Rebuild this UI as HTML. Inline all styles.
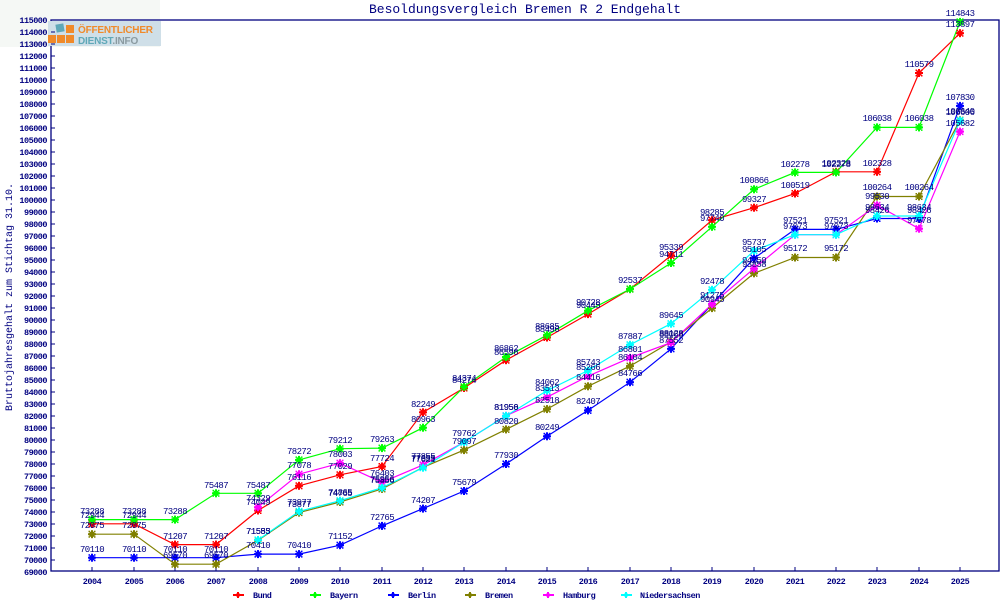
<!DOCTYPE html>
<html><head><meta charset="utf-8"><style>
body{margin:0;background:#fff}
svg{display:block}
.t{font-family:"Liberation Mono",monospace;font-size:9px;fill:#000080;letter-spacing:-0.6px;text-anchor:middle}
.ax{font-family:"Liberation Mono",monospace;font-size:8.5px;font-weight:bold;fill:#000080;letter-spacing:-0.5px}
</style></head><body>
<svg width="1000" height="600" viewBox="0 0 1000 600" xmlns="http://www.w3.org/2000/svg">
<defs>
<g id="m"><circle r="3"/><rect x="-4" y="-1" width="8" height="2"/><rect x="-1" y="-4" width="2" height="8"/><rect x="-3.5" y="-3.5" width="1.5" height="1.5"/><rect x="2" y="-3.5" width="1.5" height="1.5"/><rect x="-3.5" y="2" width="1.5" height="1.5"/><rect x="2" y="2" width="1.5" height="1.5"/></g>
<g id="s"><rect x="-3" y="-1" width="6" height="2"/><rect x="-1" y="-3" width="2" height="6"/><circle r="2"/></g>
</defs>
<rect x="0" y="0" width="160" height="47" fill="#f5f8f5"/>
<text x="525" y="13" text-anchor="middle" font-family="Liberation Mono,monospace" font-size="13" fill="#000080">Besoldungsvergleich Bremen R 2 Endgehalt</text>
<text transform="translate(12,297) rotate(-90)" text-anchor="middle" font-family="Liberation Mono,monospace" font-size="10" fill="#000080">Bruttojahresgehalt zum Stichtag 31.10.</text>
<rect x="51" y="20" width="948" height="551" fill="none" stroke="#000080" stroke-width="1.3"/>
<rect x="48" y="21" width="113" height="25" fill="#cfdfe8"/>
<rect x="56" y="24" width="8" height="8" fill="#5fa8b8" transform="rotate(-10 60 28)"/>
<rect x="66" y="25" width="8" height="8" fill="#f08a2a"/>
<rect x="48" y="35" width="8" height="8" fill="#f08a2a"/><rect x="57" y="35" width="8" height="8" fill="#f08a2a"/><rect x="66" y="35" width="8" height="8" fill="#f08a2a"/>
<text x="78" y="33" font-family="Liberation Sans,sans-serif" font-weight="bold" font-size="10" fill="#f08a2a" letter-spacing="-0.2">ÖFFENTLICHER</text>
<text x="78" y="44" font-family="Liberation Sans,sans-serif" font-weight="bold" font-size="10" fill="#5fa8b8" letter-spacing="-0.2">DIENST<tspan fill="#8a9aa0">.INFO</tspan></text>
<g class="ax" text-anchor="end">
<text x="47" y="23">115000</text><text x="47" y="35">114000</text><text x="47" y="47">113000</text><text x="47" y="59">112000</text><text x="47" y="71">111000</text><text x="47" y="83">110000</text><text x="47" y="95">109000</text><text x="47" y="107">108000</text><text x="47" y="119">107000</text><text x="47" y="131">106000</text><text x="47" y="143">105000</text><text x="47" y="155">104000</text><text x="47" y="167">103000</text><text x="47" y="179">102000</text><text x="47" y="191">101000</text><text x="47" y="203">100000</text><text x="47" y="215">99000</text><text x="47" y="227">98000</text><text x="47" y="239">97000</text><text x="47" y="251">96000</text><text x="47" y="263">95000</text><text x="47" y="275">94000</text><text x="47" y="287">93000</text><text x="47" y="299">92000</text><text x="47" y="311">91000</text><text x="47" y="323">90000</text><text x="47" y="335">89000</text><text x="47" y="347">88000</text><text x="47" y="359">87000</text><text x="47" y="371">86000</text><text x="47" y="383">85000</text><text x="47" y="395">84000</text><text x="47" y="407">83000</text><text x="47" y="419">82000</text><text x="47" y="431">81000</text><text x="47" y="443">80000</text><text x="47" y="455">79000</text><text x="47" y="467">78000</text><text x="47" y="479">77000</text><text x="47" y="491">76000</text><text x="47" y="503">75000</text><text x="47" y="515">74000</text><text x="47" y="527">73000</text><text x="47" y="539">72000</text><text x="47" y="551">71000</text><text x="47" y="563">70000</text><text x="47" y="575">69000</text>
</g>
<path stroke="#000080" stroke-width="1" d="M51 20h4M51 32h4M51 44h4M51 56h4M51 68h4M51 80h4M51 92h4M51 104h4M51 116h4M51 128h4M51 140h4M51 152h4M51 164h4M51 176h4M51 188h4M51 200h4M51 212h4M51 224h4M51 236h4M51 248h4M51 260h4M51 272h4M51 284h4M51 296h4M51 308h4M51 320h4M51 332h4M51 344h4M51 356h4M51 368h4M51 380h4M51 392h4M51 404h4M51 416h4M51 428h4M51 440h4M51 452h4M51 464h4M51 476h4M51 488h4M51 500h4M51 512h4M51 524h4M51 536h4M51 548h4M51 560h4
M92 571v-4M134 571v-4M175 571v-4M216 571v-4M258 571v-4M299 571v-4M340 571v-4M382 571v-4M423 571v-4M464 571v-4M506 571v-4M547 571v-4M588 571v-4M630 571v-4M671 571v-4M712 571v-4M754 571v-4M795 571v-4M836 571v-4M877 571v-4M919 571v-4M960 571v-4"/>
<g class="ax" text-anchor="middle">
<text x="92" y="584">2004</text><text x="134" y="584">2005</text><text x="175" y="584">2006</text><text x="216" y="584">2007</text><text x="258" y="584">2008</text><text x="299" y="584">2009</text><text x="340" y="584">2010</text><text x="382" y="584">2011</text><text x="423" y="584">2012</text><text x="464" y="584">2013</text><text x="506" y="584">2014</text><text x="547" y="584">2015</text><text x="588" y="584">2016</text><text x="630" y="584">2017</text><text x="671" y="584">2018</text><text x="712" y="584">2019</text><text x="754" y="584">2020</text><text x="795" y="584">2021</text><text x="836" y="584">2022</text><text x="877" y="584">2023</text><text x="919" y="584">2024</text><text x="960" y="584">2025</text>
</g>
<g class="ax">
<path d="M233 595h11" stroke="#f00" stroke-width="2"/><use href="#s" x="238" y="595" fill="#f00"/><text x="253" y="598">Bund</text>
<path d="M310 595h11" stroke="#0f0" stroke-width="2"/><use href="#s" x="315" y="595" fill="#0f0"/><text x="330" y="598">Bayern</text>
<path d="M388 595h11" stroke="#00f" stroke-width="2"/><use href="#s" x="393" y="595" fill="#00f"/><text x="408" y="598">Berlin</text>
<path d="M465 595h11" stroke="#808000" stroke-width="2"/><use href="#s" x="470" y="595" fill="#808000"/><text x="485" y="598">Bremen</text>
<path d="M543 595h11" stroke="#f0f" stroke-width="2"/><use href="#s" x="548" y="595" fill="#f0f"/><text x="563" y="598">Hamburg</text>
<path d="M621 595h11" stroke="#0ff" stroke-width="2"/><use href="#s" x="626" y="595" fill="#0ff"/><text x="640" y="598">Niedersachsen</text>
</g>
<g fill="none" stroke-width="1.2">
<polyline stroke="#f00" points="92,523.8 134,523.8 175,544.6 216,544.6 258,510.5 299,485.8 340,474.8 382,466.5 423,412.3 464,388 506,360.2 547,337.5 588,314.1 630,289.1 671,255.5 712,220.2 754,207.7 795,193.5 836,171.8 877,171.8 919,73 960,33.2"/>
<polyline stroke="#0f0" points="92,519.6 134,519.6 175,519.6 216,493.3 258,493.3 299,459.9 340,448.7 382,448.1 423,427.7 464,386.8 506,357 547,335.2 588,310.7 630,289.1 671,263 712,226.8 754,189.3 795,172.4 836,172.4 877,127.4 919,127.4 960,21.9"/>
<polyline stroke="#00f" points="92,557.7 134,557.7 175,557.7 216,557.7 258,554.1 299,554.1 340,545.2 382,525.9 423,508.6 464,491 506,464 547,436.3 588,410.4 630,382.2 671,348.8 712,304.2 754,258.3 795,229.4 836,229.4 877,218.5 919,218.5 960,105.9"/>
<polyline stroke="#808000" points="92,534.2 134,534.2 175,564.2 216,564.2 258,540.4 299,512.6 340,502 382,488.9 423,467.3 464,450.1 506,429.4 547,409.1 588,386.3 630,366.1 671,341.9 712,308.1 754,273.3 795,257.5 836,257.5 877,196.5 919,196.5 960,120.2"/>
<polyline stroke="#f0f" points="258,507.2 299,474.2 340,463.2 382,482.3 423,464.9 464,442.1 506,415.8 547,397.2 588,376.2 630,357.8 671,342.6 712,304.2 754,268.6 795,234.7 836,234.7 877,205.3 919,228.7 960,131.6"/>
<polyline stroke="#0ff" points="258,540 299,511.4 340,500.75 382,487.7 423,467.7 464,442.1 506,415.9 547,390.6 588,370.5 630,344.8 671,323.7 712,289.8 754,250.7 795,234.7 836,234.7 877,216 919,216 960,120.6"/>
</g>
<g transform="translate(4,4)">
<g fill="#f00"><use href="#m" x="88" y="519.8"/><use href="#m" x="130" y="519.8"/><use href="#m" x="171" y="540.6"/><use href="#m" x="212" y="540.6"/><use href="#m" x="254" y="506.5"/><use href="#m" x="295" y="481.8"/><use href="#m" x="336" y="470.8"/><use href="#m" x="378" y="462.5"/><use href="#m" x="419" y="408.3"/><use href="#m" x="460" y="384"/><use href="#m" x="502" y="356.2"/><use href="#m" x="543" y="333.5"/><use href="#m" x="584" y="310.1"/><use href="#m" x="626" y="285.1"/><use href="#m" x="667" y="251.5"/><use href="#m" x="708" y="216.2"/><use href="#m" x="750" y="203.7"/><use href="#m" x="791" y="189.5"/><use href="#m" x="832" y="167.8"/><use href="#m" x="873" y="167.8"/><use href="#m" x="915" y="69"/><use href="#m" x="956" y="29.2"/></g>
<g fill="#0f0"><use href="#m" x="88" y="515.6"/><use href="#m" x="130" y="515.6"/><use href="#m" x="171" y="515.6"/><use href="#m" x="212" y="489.3"/><use href="#m" x="254" y="489.3"/><use href="#m" x="295" y="455.9"/><use href="#m" x="336" y="444.7"/><use href="#m" x="378" y="444.1"/><use href="#m" x="419" y="423.7"/><use href="#m" x="460" y="382.8"/><use href="#m" x="502" y="353"/><use href="#m" x="543" y="331.2"/><use href="#m" x="584" y="306.7"/><use href="#m" x="626" y="285.1"/><use href="#m" x="667" y="259"/><use href="#m" x="708" y="222.8"/><use href="#m" x="750" y="185.3"/><use href="#m" x="791" y="168.4"/><use href="#m" x="832" y="168.4"/><use href="#m" x="873" y="123.4"/><use href="#m" x="915" y="123.4"/><use href="#m" x="956" y="17.9"/></g>
<g fill="#00f"><use href="#m" x="88" y="553.7"/><use href="#m" x="130" y="553.7"/><use href="#m" x="171" y="553.7"/><use href="#m" x="212" y="553.7"/><use href="#m" x="254" y="550.1"/><use href="#m" x="295" y="550.1"/><use href="#m" x="336" y="541.2"/><use href="#m" x="378" y="521.9"/><use href="#m" x="419" y="504.6"/><use href="#m" x="460" y="487"/><use href="#m" x="502" y="460"/><use href="#m" x="543" y="432.3"/><use href="#m" x="584" y="406.4"/><use href="#m" x="626" y="378.2"/><use href="#m" x="667" y="344.8"/><use href="#m" x="708" y="300.2"/><use href="#m" x="750" y="254.3"/><use href="#m" x="791" y="225.4"/><use href="#m" x="832" y="225.4"/><use href="#m" x="873" y="214.5"/><use href="#m" x="915" y="214.5"/><use href="#m" x="956" y="101.9"/></g>
<g fill="#808000"><use href="#m" x="88" y="530.2"/><use href="#m" x="130" y="530.2"/><use href="#m" x="171" y="560.2"/><use href="#m" x="212" y="560.2"/><use href="#m" x="254" y="536.4"/><use href="#m" x="295" y="508.6"/><use href="#m" x="336" y="498"/><use href="#m" x="378" y="484.9"/><use href="#m" x="419" y="463.3"/><use href="#m" x="460" y="446.1"/><use href="#m" x="502" y="425.4"/><use href="#m" x="543" y="405.1"/><use href="#m" x="584" y="382.3"/><use href="#m" x="626" y="362.1"/><use href="#m" x="667" y="337.9"/><use href="#m" x="708" y="304.1"/><use href="#m" x="750" y="269.3"/><use href="#m" x="791" y="253.5"/><use href="#m" x="832" y="253.5"/><use href="#m" x="873" y="192.5"/><use href="#m" x="915" y="192.5"/><use href="#m" x="956" y="116.2"/></g>
<g fill="#f0f"><use href="#m" x="254" y="503.2"/><use href="#m" x="295" y="470.2"/><use href="#m" x="336" y="459.2"/><use href="#m" x="378" y="478.3"/><use href="#m" x="419" y="460.9"/><use href="#m" x="460" y="438.1"/><use href="#m" x="502" y="411.8"/><use href="#m" x="543" y="393.2"/><use href="#m" x="584" y="372.2"/><use href="#m" x="626" y="353.8"/><use href="#m" x="667" y="338.6"/><use href="#m" x="708" y="300.2"/><use href="#m" x="750" y="264.6"/><use href="#m" x="791" y="230.7"/><use href="#m" x="832" y="230.7"/><use href="#m" x="873" y="201.3"/><use href="#m" x="915" y="224.7"/><use href="#m" x="956" y="127.6"/></g>
<g fill="#0ff"><use href="#m" x="254" y="536"/><use href="#m" x="295" y="507.4"/><use href="#m" x="336" y="496.75"/><use href="#m" x="378" y="483.7"/><use href="#m" x="419" y="463.7"/><use href="#m" x="460" y="438.1"/><use href="#m" x="502" y="411.9"/><use href="#m" x="543" y="386.6"/><use href="#m" x="584" y="366.5"/><use href="#m" x="626" y="340.8"/><use href="#m" x="667" y="319.7"/><use href="#m" x="708" y="285.8"/><use href="#m" x="750" y="246.7"/><use href="#m" x="791" y="230.7"/><use href="#m" x="832" y="230.7"/><use href="#m" x="873" y="212"/><use href="#m" x="915" y="212"/><use href="#m" x="956" y="116.6"/></g>
</g>
<g class="t">
<text x="92" y="518">72944</text><text x="134" y="518">72944</text><text x="175" y="539">71207</text><text x="216" y="539">71207</text><text x="258" y="505">74049</text><text x="299" y="480">76116</text><text x="340" y="469">77029</text><text x="382" y="461">77724</text><text x="423" y="407">82249</text><text x="464" y="383">84274</text><text x="506" y="355">86596</text><text x="547" y="332">88496</text><text x="588" y="308">90445</text><text x="630" y="283">92537</text><text x="671" y="250">95339</text><text x="712" y="215">98285</text><text x="754" y="202">99327</text><text x="795" y="188">100519</text><text x="836" y="166">102328</text><text x="877" y="166">102328</text><text x="919" y="67">110579</text><text x="960" y="27">113897</text>
<text x="92" y="514">73288</text><text x="134" y="514">73288</text><text x="175" y="514">73288</text><text x="216" y="488">75487</text><text x="258" y="488">75487</text><text x="299" y="454">78272</text><text x="340" y="443">79212</text><text x="382" y="442">79263</text><text x="423" y="422">80963</text><text x="464" y="381">84374</text><text x="506" y="351">86862</text><text x="547" y="329">88685</text><text x="588" y="305">90728</text><text x="671" y="257">94711</text><text x="712" y="221">97740</text><text x="754" y="183">100866</text><text x="795" y="167">102278</text><text x="836" y="167">102278</text><text x="877" y="121">106038</text><text x="919" y="121">106038</text><text x="960" y="16">114843</text>
<text x="92" y="552">70110</text><text x="134" y="552">70110</text><text x="175" y="552">70110</text><text x="216" y="552">70110</text><text x="258" y="548">70410</text><text x="299" y="548">70410</text><text x="340" y="539">71152</text><text x="382" y="520">72765</text><text x="423" y="503">74207</text><text x="464" y="485">75679</text><text x="506" y="458">77930</text><text x="547" y="430">80249</text><text x="588" y="404">82407</text><text x="630" y="376">84766</text><text x="671" y="343">87552</text><text x="712" y="298">91275</text><text x="754" y="252">95105</text><text x="795" y="223">97521</text><text x="836" y="223">97521</text><text x="877" y="213">98426</text><text x="919" y="213">98426</text><text x="960" y="100">107830</text>
<text x="92" y="528">72075</text><text x="134" y="528">72075</text><text x="175" y="558">69570</text><text x="216" y="558">69570</text><text x="258" y="534">71553</text><text x="299" y="507">73877</text><text x="340" y="496">74765</text><text x="382" y="483">75856</text><text x="423" y="461">77655</text><text x="464" y="444">79097</text><text x="506" y="424">80820</text><text x="547" y="403">82518</text><text x="588" y="380">84416</text><text x="630" y="360">86104</text><text x="671" y="336">88128</text><text x="712" y="302">90945</text><text x="754" y="267">93858</text><text x="795" y="251">95172</text><text x="836" y="251">95172</text><text x="877" y="190">100264</text><text x="919" y="190">100264</text><text x="960" y="114">106640</text>
<text x="258" y="501">74329</text><text x="299" y="468">77078</text><text x="340" y="457">78003</text><text x="382" y="476">76403</text><text x="423" y="459">77855</text><text x="464" y="436">79762</text><text x="506" y="410">81956</text><text x="547" y="391">83513</text><text x="588" y="370">85266</text><text x="630" y="352">86801</text><text x="671" y="337">88068</text><text x="754" y="263">94250</text><text x="877" y="199">99530</text><text x="919" y="223">97578</text><text x="960" y="126">105682</text>
<text x="258" y="534">71585</text><text x="299" y="505">73977</text><text x="340" y="495">74865</text><text x="382" y="482">75956</text><text x="423" y="462">77621</text><text x="506" y="410">81950</text><text x="547" y="385">84062</text><text x="588" y="365">85743</text><text x="630" y="339">87887</text><text x="671" y="318">89645</text><text x="712" y="284">92478</text><text x="754" y="245">95737</text><text x="795" y="229">97073</text><text x="836" y="229">97073</text><text x="877" y="210">98634</text><text x="919" y="210">98634</text><text x="960" y="115">106606</text>
</g>
</svg>
</body></html>
